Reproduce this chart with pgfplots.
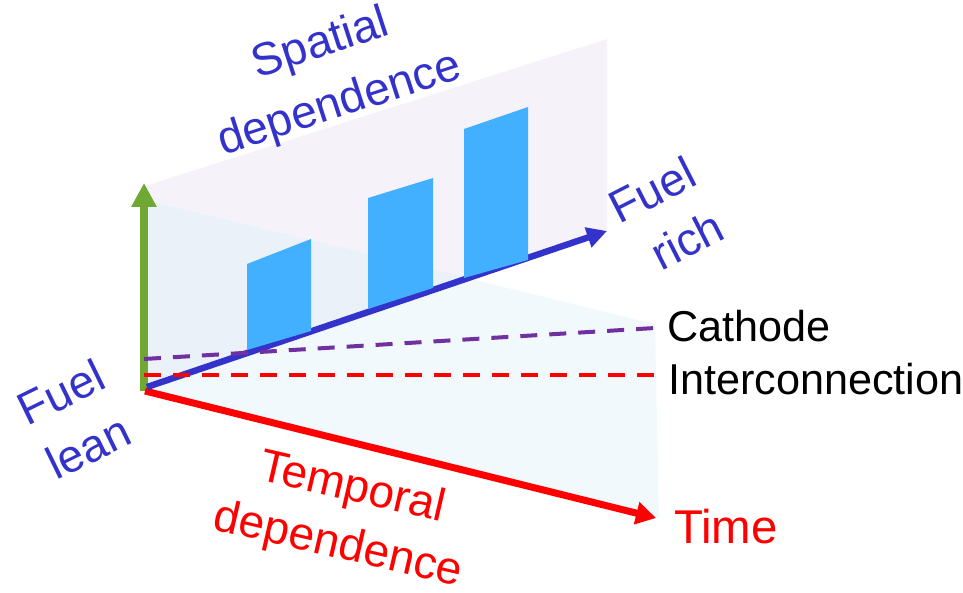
\documentclass[border=0pt]{standalone}
\usepackage{pgfplots}
\pgfplotsset{compat=1.18}
\usetikzlibrary{arrows.meta}
\usepackage{fontspec}
\setmainfont{Liberation Sans}
\definecolor{lav}{HTML}{F5F3F9}
\definecolor{cyanpl}{HTML}{F2F9FD}
\definecolor{overl}{HTML}{EAF1F9}
\definecolor{bblue}{HTML}{3333CC}
\definecolor{bar}{HTML}{42AFFF}
\definecolor{grn}{HTML}{6FA933}
\definecolor{purp}{HTML}{7030A0}
\begin{document}
\begin{tikzpicture}
\begin{axis}[
  width=481.5pt, height=296.5pt, scale only axis,
  xmin=0, xmax=963, ymin=0, ymax=593, y dir=reverse,
  axis lines=none, clip=false, no markers,
  every node/.append style={inner sep=0pt, overlay},
]
% planes
\addplot[fill=lav, draw=none] coordinates {(145,186) (607,39) (607,231) (145,388)} -- cycle;
\addplot[fill=cyanpl, draw=none] coordinates {(147,200) (655,324) (659,518) (145,391)} -- cycle;
\addplot[fill=overl, draw=none] coordinates {(145,200) (468,278) (145,388)} -- cycle;
% axes arrows
\addplot[grn, line width=4pt, -{Triangle[length=12pt,width=12pt]}] coordinates {(144,391) (144,183)};
\addplot[red, line width=3.5pt, -{Triangle[length=10pt,width=11pt]}] coordinates {(145,391) (656,518)};
\addplot[bblue, line width=3.2pt, -{Triangle[length=10pt,width=10pt]}] coordinates {(147,387) (607,231)};
% bars
\addplot[fill=bar, draw=none] coordinates {(247,350) (247,264) (311,239) (311,331)} -- cycle;
\addplot[fill=bar, draw=none] coordinates {(368,309) (368,198) (433,178) (433,288)} -- cycle;
\addplot[fill=bar, draw=none] coordinates {(464,278) (464,129) (528,107) (528,260)} -- cycle;
% dashed lines
\addplot[purp, line width=2pt, dash pattern=on 8.5pt off 6pt] coordinates {(144,359) (655,328)};
\addplot[red, line width=2pt, dash pattern=on 8.5pt off 6pt] coordinates {(144,375) (655,375)};
% texts
\node[bblue, rotate=18, font=\fontsize{23}{27}\selectfont] at (axis cs:321,45) {Spatial};
\node[bblue, rotate=18, font=\fontsize{23}{27}\selectfont] at (axis cs:340,105) {dependence};
\node[bblue, rotate=26, font=\fontsize{23}{27}\selectfont] at (axis cs:61,392) {Fuel};
\node[bblue, rotate=26, font=\fontsize{23}{27}\selectfont] at (axis cs:88,447) {lean};
\node[bblue, rotate=27, font=\fontsize{23}{27}\selectfont] at (axis cs:652,190) {Fuel};
\node[bblue, rotate=27, font=\fontsize{23}{27}\selectfont] at (axis cs:687,240) {rich};
\node[red, rotate=-13, font=\fontsize{23}{27}\selectfont] at (axis cs:352,489) {Temporal};
\node[red, rotate=-13, font=\fontsize{23}{27}\selectfont] at (axis cs:338,546) {dependence};
\node[black, anchor=base west, font=\fontsize{21.6}{25}\selectfont] at (axis cs:660,341) {Cathode};
\node[black, anchor=base west, font=\fontsize{21.6}{25}\selectfont] at (axis cs:661,394) {Interconnection};
\node[red, anchor=base west, font=\fontsize{23.7}{27}\selectfont] at (axis cs:667,543) {Time};
\end{axis}
\pgfresetboundingbox
\path[use as bounding box] (current axis.south west) rectangle (current axis.north east);
\end{tikzpicture}
\end{document}
